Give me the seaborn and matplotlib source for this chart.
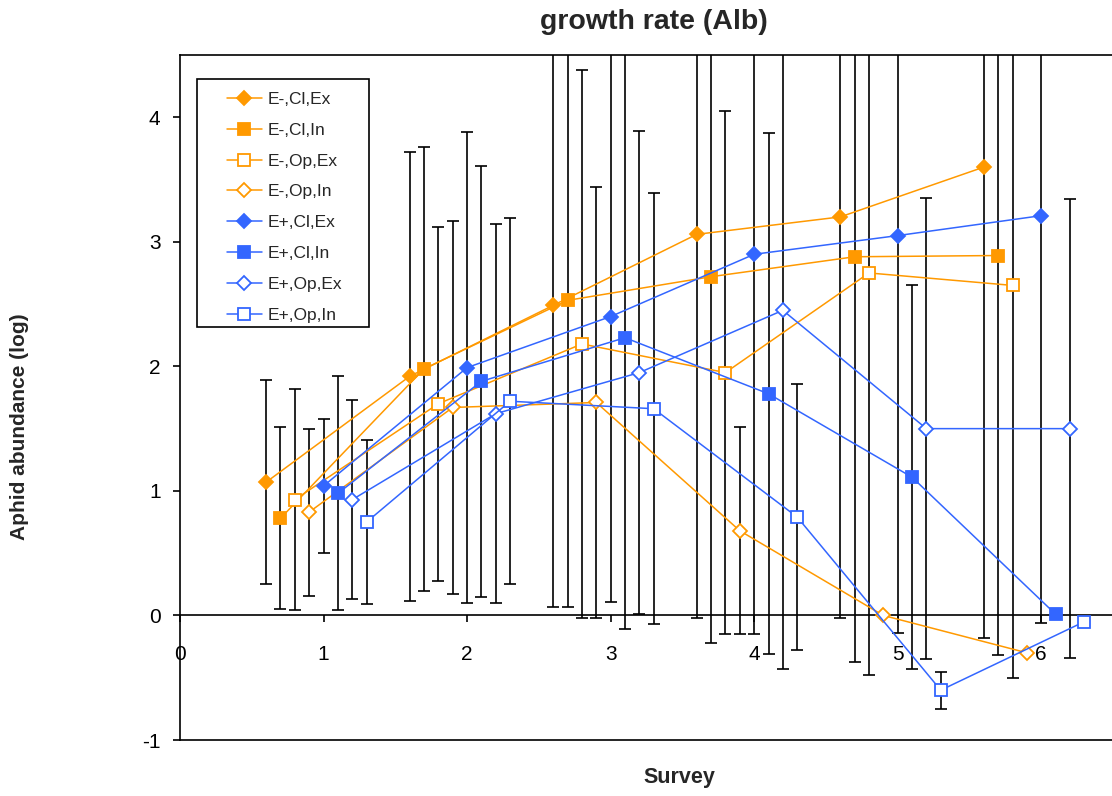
import numpy as np
import pandas as pd
import matplotlib
matplotlib.use("Agg")
import matplotlib.pyplot as plt
from matplotlib.patches import Rectangle
import seaborn as sns

# basic setting
sns.set_style("ticks")
plt.rcParams['font.family'] = ['Liberation Sans', 'DejaVu Sans']
plt.rcParams['axes.unicode_minus'] = False

# data
survey = [1, 2, 3, 4, 5, 6]
series_names = ["E-,Cl,Ex", "E-,Cl,In", "E-,Op,Ex", "E-,Op,In",
                "E+,Cl,Ex", "E+,Cl,In", "E+,Op,Ex", "E+,Op,In"]

mean_em_cl_ex = [1.07, 1.92, 2.49, 3.06, 3.20, 3.60]
mean_em_cl_in = [0.78, 1.98, 2.53, 2.72, 2.88, 2.89]
mean_em_op_ex = [0.93, 1.70, 2.18, 1.95, 2.75, 2.65]
mean_em_op_in = [0.83, 1.67, 1.71, 0.68, 0.00, -0.30]
mean_ep_cl_ex = [1.04, 1.99, 2.40, 2.90, 3.05, 3.21]
mean_ep_cl_in = [0.98, 1.88, 2.23, 1.78, 1.11, 0.01]
mean_ep_op_ex = [0.93, 1.62, 1.95, 2.45, 1.50, 1.50]
mean_ep_op_in = [0.75, 1.72, 1.66, 0.79, -0.60, -0.05]

err_em_cl_ex = [0.82, 1.80, 2.42, 3.08, 3.22, 3.78]
err_em_cl_in = [0.73, 1.78, 2.46, 2.94, 3.25, 3.21]
err_em_op_ex = [0.89, 1.42, 2.20, 2.10, 3.23, 3.15]
err_em_op_in = [0.67, 1.50, 1.73, 0.83, np.nan, np.nan]
err_ep_cl_ex = [0.54, 1.89, 2.29, 3.05, 3.19, 3.27]
err_ep_cl_in = [0.94, 1.73, 2.34, 2.09, 1.54, np.nan]
err_ep_op_ex = [0.80, 1.52, 1.94, 2.88, 1.85, 1.84]
err_ep_op_in = [0.66, 1.47, 1.73, 1.07, 0.15, np.nan]

means = [mean_em_cl_ex, mean_em_cl_in, mean_em_op_ex, mean_em_op_in,
         mean_ep_cl_ex, mean_ep_cl_in, mean_ep_op_ex, mean_ep_op_in]
errs = [err_em_cl_ex, err_em_cl_in, err_em_op_ex, err_em_op_in,
        err_ep_cl_ex, err_ep_cl_in, err_ep_op_ex, err_ep_op_in]

orange = "#FF9900"
blue = "#3366FF"
colors = [orange] * 4 + [blue] * 4
markers = ["D", "s", "s", "D", "D", "s", "D", "s"]
filled = [True, True, False, False] * 2

fig = plt.figure(figsize=(11.12, 7.96), dpi=100)
ax = fig.add_axes([180 / 1112, 56 / 796, 933 / 1112, 685 / 796])

for i, name in enumerate(series_names):
    xs = np.array(survey) - 0.4 + 0.1 * i
    ax.errorbar(xs, means[i], yerr=errs[i], fmt="none", ecolor="black",
                elinewidth=1.2, capsize=4, capthick=1.2, zorder=2)
    df = pd.DataFrame({"Survey": xs, "abund": means[i]})
    ms = 8 if markers[i] == "s" else 7.5
    sns.lineplot(data=df, x="Survey", y="abund", ax=ax, color=colors[i],
                 marker=markers[i], markersize=ms,
                 markerfacecolor=colors[i] if filled[i] else "white",
                 markeredgecolor=colors[i], markeredgewidth=1.3,
                 linewidth=1.1, label=name, errorbar=None, sort=False, zorder=3)

ax.set_xlim(0, 6.5)
ax.set_ylim(-1, 4.5)
ax.set_xticks(range(0, 7))
ax.set_yticks(range(-1, 5))
ax.set_xlabel("")
ax.set_ylabel("")

# Excel-like frame: x axis crosses at 0, box closed at -1
ax.spines["bottom"].set_position(("data", 0))
ax.spines["right"].set_visible(False)
for s in ["left", "top", "bottom"]:
    ax.spines[s].set_color("black")
    ax.spines[s].set_linewidth(1.2)
ax.axhline(-1, color="black", lw=1.2, clip_on=False, zorder=1)
ax.tick_params(axis="x", length=5, width=1.2, pad=16, labelsize=15, colors="black")
ax.tick_params(axis="y", length=5, width=1.2, pad=9, labelsize=15, colors="black")

# legend: entries without frame, box drawn separately
leg = ax.legend(loc="upper left", bbox_to_anchor=(0.0504, 0.946), borderaxespad=0,
                fontsize=12.5, frameon=False, borderpad=0, labelspacing=0.9,
                handlelength=2.0, handletextpad=0.35)
leg.set_zorder(6)
ax.add_patch(Rectangle((0.0182, 0.603), 0.2026 - 0.0182, 0.965 - 0.603,
                       transform=ax.transAxes, facecolor="white",
                       edgecolor="black", linewidth=1.2, zorder=5))

fig.text(654 / 1112, 1 - 22 / 796, "growth rate (Alb)", ha="center", va="center",
         fontsize=20.5, fontweight="bold")
fig.text(20 / 1112, 1 - 427 / 796, "Aphid abundance (log)", ha="center", va="center",
         rotation=90, fontsize=15, fontweight="bold")
fig.text(679 / 1112, 1 - 778 / 796, "Survey", ha="center", va="center",
         fontsize=15.5, fontweight="bold")

fig.savefig("out.png", dpi=100)
